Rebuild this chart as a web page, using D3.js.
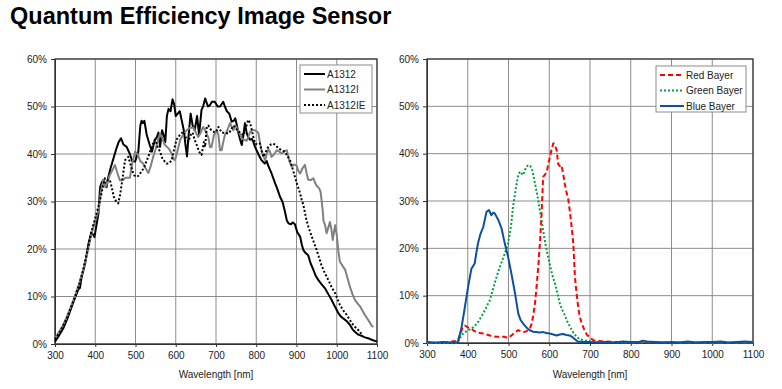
<!DOCTYPE html>
<html>
<head>
<meta charset="utf-8">
<script src="https://cdn.jsdelivr.net/npm/d3@7"></script>
<style>
  body { margin: 0; background: #fff; }
  svg { display: block; font-family: Arial, "Liberation Sans", sans-serif; }
</style>
</head>
<body>
<div id="chart"></div>
<script>
// wavelength [nm], QE [%]
const a1312 = [[300,0.5],[310,1.8],[320,3.2],[330,5.2],[340,7.5],[350,9.8],[358,11.5],[362,11.8],[366,14],[375,17],[383,21],[390,23.5],[395,23],[398,22.5],[403,25],[408,27.5],[412,33],[416,34],[420,34.5],[424,34],[428,33],[432,35],[438,37],[445,39],[452,41],[458,42.5],[464,43.3],[470,42],[478,41.5],[486,40],[492,38.5],[499,38.4],[507,40.5],[512,46],[515,47],[518,46.5],[522,47],[528,44],[535,42],[541,40.5],[548,43],[553,43.5],[557,44.5],[561,41.5],[566,45],[570,44],[574,42.5],[578,48],[582,49.5],[587,49],[592,51.5],[596,50.5],[600,48],[605,48.5],[610,49],[615,47],[620,45],[624,42],[628,39.5],[632,44],[637,48.5],[642,46],[647,45],[653,48],[658,44],[664,49.3],[668,50],[673,51.7],[680,50],[685,50.3],[690,51],[697,51],[704,50],[710,50],[718,51],[722,50],[727,49],[733,48.5],[739,46.8],[744,47],[748,47.5],[752,46],[755,44.7],[760,43],[764,41.9],[768,44],[772,46.5],[776,44.5],[780,43.5],[785,43],[789,43.2],[793,42.5],[797,41.5],[805,40],[813,38.7],[821,38],[826,38.5],[830,37.5],[838,35.9],[847,33.8],[853,32.5],[859,31],[865,30],[871,28],[876,26],[880,25.4],[886,25.2],[891,25.6],[896,25.2],[902,23.5],[909,22.6],[913,21],[917,19.8],[922,19.2],[929,18.7],[935,17],[942,15.6],[948,14.3],[954,13.5],[962,12.6],[971,11.7],[979,10.5],[987,9.3],[996,7.8],[1004,6.5],[1010,5.8],[1016,5.4],[1025,4.8],[1033,4],[1040,3],[1045,2.6],[1053,2],[1062,1.7],[1070,1.4],[1078,1.2],[1090,0.8],[1100,0.5]];
const a1312i = [[300,1.2],[310,2.5],[320,4],[330,5.8],[340,8],[350,10.2],[360,12.8],[370,15.5],[380,19],[390,23],[400,26],[406,27.5],[410,29],[414,32],[420,34.5],[425,33],[430,34],[436,35.5],[442,36.5],[449,37.7],[455,36],[461,34.5],[468,34.5],[475,35],[481,35],[486,35],[492,38],[499,40.5],[505,40],[512,38.5],[519,38],[525,37],[532,36],[538,37.5],[544,39.4],[550,41],[556,43],[561,44.3],[566,43.5],[572,42],[578,41.5],[584,41],[590,40],[594,39],[598,38.7],[604,40.5],[611,43],[618,44],[627,45],[635,45.5],[644,45.6],[650,44.5],[656,43.6],[662,44.5],[668,45.7],[673,45],[678,44],[681,43.5],[685,41.5],[689,41.5],[695,44],[702,45],[706,44],[710,40.8],[714,40.8],[718,42.5],[722,44],[728,45],[735,46.5],[743,45],[748,46],[752,45.5],[758,44.5],[764,43.3],[770,43],[776,42.8],[780,43.5],[785,44.7],[791,45],[797,45],[805,44.5],[809,42.5],[813,40.8],[818,39.5],[822,38.7],[826,40],[830,41],[834,40.5],[838,39.4],[845,40],[851,40.8],[857,40.5],[863,40.1],[869,40.5],[876,40.8],[882,38.5],[888,37.3],[894,37.8],[900,37.6],[904,36.5],[909,35.9],[915,37],[921,37.7],[925,36],[929,34.6],[935,34.5],[942,34.9],[946,34],[950,33.3],[956,32.8],[960,32],[962,30.5],[965,28.2],[967,26],[971,25],[975,23.3],[979,24.5],[983,25.7],[987,24],[990,21.9],[993,23.5],[996,25],[1000,23],[1004,19.5],[1008,17.3],[1014,16.5],[1021,15.6],[1027,13.8],[1033,12],[1039,10.5],[1045,9.3],[1052,8.5],[1058,7.9],[1064,7],[1070,6.1],[1077,5.2],[1083,4.4],[1087,3.8],[1091,3.6]];
const a1312ie = [[300,1],[310,2.2],[320,3.8],[330,5.6],[340,7.8],[350,10],[360,12.5],[370,15.5],[380,19.5],[390,23.5],[400,26.5],[408,29],[415,31.5],[420,33.5],[424,34.9],[430,34.5],[436,34.6],[441,33],[446,31],[452,30],[457,29.6],[462,31.5],[468,35],[474,38.7],[478,39],[482,39.4],[487,38],[492,36.5],[497,35.5],[503,35.2],[509,35.5],[515,36.4],[521,37],[527,38.5],[532,39.4],[536,40.5],[540,41.5],[545,42.5],[549,43],[555,41.5],[561,40.5],[567,39],[572,38.5],[577,38],[583,38],[590,38.7],[596,41],[602,43],[610,44],[619,44.7],[625,43.5],[631,42.6],[637,44],[642,44.5],[647,43],[652,41.9],[658,40.5],[664,39.8],[670,42.5],[673,41.5],[677,45.7],[681,46],[685,45.3],[689,45],[697,44.5],[702,45],[706,45.7],[714,44.5],[722,44.5],[731,44.3],[737,45],[743,46],[749,45.5],[755,44.7],[762,44.5],[768,43.9],[774,45.5],[780,47.2],[785,46.5],[789,45],[793,43.5],[797,42.2],[803,42],[809,42.2],[814,40.5],[818,39.4],[824,40.5],[830,41.5],[836,42],[842,42.2],[849,41.8],[855,41.2],[863,40.8],[871,40.5],[878,39.5],[884,38.7],[890,37],[896,35.2],[902,33.5],[909,31.7],[913,30.3],[917,29.3],[925,26],[931,24.3],[938,22.6],[944,21.2],[950,19.8],[956,18.2],[962,16.6],[970,15],[979,13.5],[987,12],[996,10.7],[1002,9.4],[1008,8.2],[1016,7.1],[1025,6.1],[1033,5],[1041,4],[1050,3.2],[1058,2.6],[1064,1.5]];

const redBayer = [[300,0],[340,0],[376,0.5],[382,2],[388,3.4],[393,3.7],[400,3.3],[409,3],[415,2.6],[421,2.3],[430,2.1],[438,2],[446,1.8],[454,1.6],[462,1.4],[470,1.3],[480,1.3],[491,1.3],[497,1.1],[503,1.3],[510,1.8],[516,2.3],[524,2.7],[530,2.5],[536,2.3],[542,2.4],[548,2.7],[553,3.2],[557,4.1],[561,6],[565,8.3],[569,12],[573,16.1],[577,21],[581,26.7],[583,31],[585,35.1],[589,35.5],[594,36.2],[598,38],[602,39.4],[606,41],[610,42.2],[614,41.8],[618,40.8],[622,37.8],[626,37.4],[630,37.6],[634,35.8],[638,33.7],[642,32],[647,30.2],[651,27.5],[655,24.5],[659,21],[663,14],[667,10.5],[671,7.6],[675,5.5],[680,4.1],[686,2.8],[692,1.8],[700,1.1],[708,0.6],[720,0.4],[740,0.3],[760,0.2],[780,0.1],[800,0.1],[900,0.1],[1000,0],[1100,0]];
const greenBayer = [[300,0],[340,0],[375,0],[380,0.9],[386,1.8],[393,2.3],[401,2.7],[409,3],[417,3.6],[425,4.4],[433,5.5],[442,6.9],[448,8],[454,9],[460,10.8],[466,12.6],[472,14.3],[479,16.1],[485,17.5],[491,18.9],[499,21],[503,23],[507,25.3],[511,28.8],[516,31.5],[520,33.7],[524,35.5],[528,36.2],[532,35.8],[536,35.5],[540,36.5],[544,37.2],[548,37.6],[553,37.4],[557,36.9],[561,35.5],[565,33.7],[569,32],[573,30.2],[577,28],[581,26],[585,23.8],[589,21.7],[595,19],[601,16.8],[607,14.5],[614,12.6],[620,10.5],[626,8.3],[632,7],[638,5.9],[644,4.6],[651,3.4],[659,2.2],[667,1.3],[675,0.8],[683,0.6],[700,0.3],[720,0.2],[760,0.1],[800,0.1],[830,0.2],[900,0.1],[1000,0.1],[1100,0.1]];
const blueBayer = [[300,0.2],[320,0.1],[340,0.2],[360,0.1],[376,0.2],[385,3.4],[393,7.6],[401,11.9],[409,15.7],[417,16.8],[421,19],[425,21],[431,23],[438,24.5],[446,27.7],[452,28.1],[458,27],[462,27.5],[466,27.4],[470,26.8],[475,26],[483,24.2],[491,21],[499,18.2],[507,14.7],[516,10.5],[524,6.2],[530,4.8],[536,4.1],[544,3.3],[552,2.7],[560,2.4],[568,2.3],[576,2.2],[585,2.3],[593,2.1],[601,2],[610,1.8],[618,1.6],[626,1.8],[634,1.9],[642,1.7],[650,1.6],[656,1.3],[663,0.8],[670,0.3],[680,0.2],[700,0.2],[720,0.1],[740,0.2],[760,0.1],[780,0.3],[800,0.2],[820,0.2],[830,0.5],[840,0.3],[860,0.2],[880,0.1],[900,0.2],[920,0.1],[940,0.3],[960,0.1],[980,0.2],[1000,0.2],[1020,0.3],[1040,0.1],[1060,0.2],[1080,0.3],[1100,0.2]];

const xTicks = [300, 400, 500, 600, 700, 800, 900, 1000, 1100];
const yTicks = [0, 10, 20, 30, 40, 50, 60];
const title = "Quantum Efficiency Image Sensor";
const xLabel = "Wavelength [nm]";

const leftSeries = [
	{ name: "A1312", data: a1312, color: "#000", dash: null },
	{ name: "A1312I", data: a1312i, color: "#808080", dash: null },
	{ name: "A1312IE", data: a1312ie, color: "#000", dash: "2,2" }
];
const rightSeries = [
	{ name: "Red Bayer", data: redBayer, color: "#ff0000", dash: "5,3" },
	{ name: "Green Bayer", data: greenBayer, color: "#00a040", dash: "2,2" },
	{ name: "Blue Bayer", data: blueBayer, color: "#0b519e", dash: null }
];

const w = 782;
const h = 389;

const svg = d3
	.select("#chart")
	.append("svg")
	.attr("width", w)
	.attr("height", h);

svg
	.append("text")
	.attr("x", 10)
	.attr("y", 24)
	.attr("font-size", "23.5px")
	.attr("font-weight", "bold")
	.attr("fill", "#000")
	.text(title);

const BuildPanel = (x0, x1, y0, y1, series, legend) => {
	const xScale = d3.scaleLinear().domain([300, 1100]).range([x0, x1]);
	const yScale = d3.scaleLinear().domain([0, 60]).range([y1, y0]);
	const g = svg.append("g");

	// grid
	g.selectAll(".vgrid")
		.data(xTicks)
		.enter()
		.append("line")
		.attr("x1", (d) => xScale(d))
		.attr("x2", (d) => xScale(d))
		.attr("y1", y0)
		.attr("y2", y1)
		.attr("stroke", "#8c8c8c")
		.attr("stroke-width", 1);
	g.selectAll(".hgrid")
		.data(yTicks)
		.enter()
		.append("line")
		.attr("x1", x0)
		.attr("x2", x1)
		.attr("y1", (d) => yScale(d))
		.attr("y2", (d) => yScale(d))
		.attr("stroke", "#8c8c8c")
		.attr("stroke-width", 1);

	const xAxis = d3
		.axisBottom(xScale)
		.tickValues(xTicks)
		.tickSize(3)
		.tickSizeOuter(0)
		.tickFormat(d3.format("d"));
	const yAxis = d3
		.axisLeft(yScale)
		.tickValues(yTicks)
		.tickSize(4)
		.tickSizeOuter(0)
		.tickFormat((d) => d + "%");

	const gx = g.append("g").attr("transform", "translate(0," + y1 + ")").call(xAxis);
	const gy = g.append("g").attr("transform", "translate(" + x0 + ",0)").call(yAxis);
	[gx, gy].forEach((a) => {
		a.selectAll("path, line").attr("stroke", "#333");
		a.selectAll("text")
			.attr("font-size", "10px")
			.attr("fill", "#222")
			.attr("font-family", "Arial, 'Liberation Sans', sans-serif");
	});
	gx.selectAll("text").attr("dy", "0.71em").attr("y", 8);
	gy.selectAll("text").attr("x", -8);

	// frame
	g.append("rect")
		.attr("x", x0)
		.attr("y", y0)
		.attr("width", x1 - x0)
		.attr("height", y1 - y0)
		.attr("fill", "none")
		.attr("stroke", "#333")
		.attr("stroke-width", 1.2);

	const line = d3
		.line()
		.x((d) => xScale(d[0]))
		.y((d) => yScale(d[1]))
		.curve(d3.curveLinear);

	g.selectAll(".series")
		.data(series)
		.enter()
		.append("path")
		.attr("d", (d) => line(d.data))
		.attr("fill", "none")
		.attr("stroke", (d) => d.color)
		.attr("stroke-width", 2)
		.attr("stroke-dasharray", (d) => d.dash)
		.attr("stroke-linejoin", "round");

	g.append("text")
		.attr("x", (x0 + x1) / 2)
		.attr("y", 378)
		.attr("text-anchor", "middle")
		.attr("font-size", "10px")
		.attr("fill", "#222")
		.text(xLabel);

	// legend
	const lg = g.append("g");
	lg.append("rect")
		.attr("x", legend.x)
		.attr("y", legend.y)
		.attr("width", legend.w)
		.attr("height", legend.h)
		.attr("fill", "#fff")
		.attr("stroke", "#8c8c8c");
	series.forEach((s, i) => {
		const yy = legend.y + 9 + i * 15.5;
		lg.append("line")
			.attr("x1", legend.x + 4)
			.attr("x2", legend.x + 4 + legend.sw)
			.attr("y1", yy)
			.attr("y2", yy)
			.attr("stroke", s.color)
			.attr("stroke-width", 2)
			.attr("stroke-dasharray", s.dash);
		lg.append("text")
			.attr("x", legend.x + 6 + legend.sw)
			.attr("y", yy + 3.5)
			.attr("font-size", "10px")
			.attr("fill", "#222")
			.text(s.name);
	});
};

BuildPanel(55, 377, 59, 344, leftSeries, { x: 300, y: 65, w: 72, h: 48, sw: 21 });
BuildPanel(427, 753, 59, 343, rightSeries, { x: 656, y: 66, w: 90, h: 46, sw: 24 });
</script>
</body>
</html>
